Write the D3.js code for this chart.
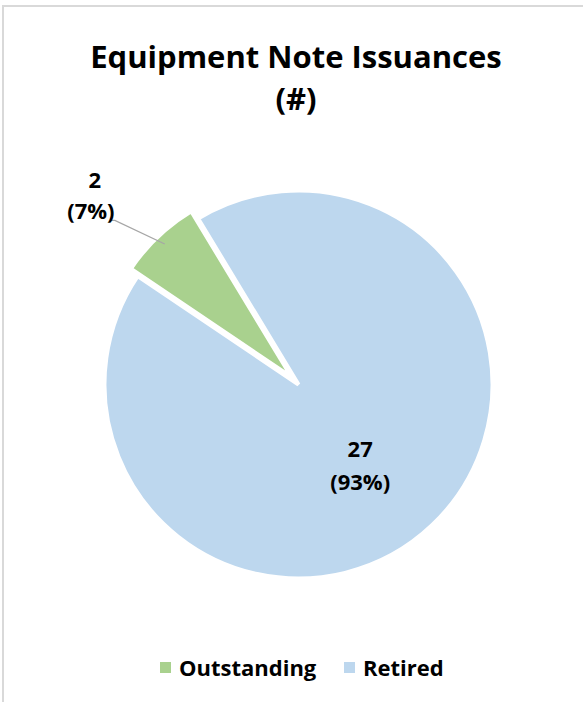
<!DOCTYPE html>
<html>
<head>
<meta charset="utf-8">
<script src="https://cdn.jsdelivr.net/npm/d3@7"></script>
<style>
  body { margin: 0; background: #fff; }
  text { font-family: "Open Sans", Lato, sans-serif; font-weight: bold; fill: #000; }
</style>
</head>
<body>
<div id="wrapper"></div>
<script>
const categories = ["Outstanding", "Retired"];
const values = [2, 27];
const colors = ["#a9d18e", "#bdd7ee"];

function draw() {
  const dimensions = { width: 583, height: 702 };
  const cx = 298.5, cy = 384.5, radius = 194;

  const wrapper = d3.select("#wrapper")
    .append("svg")
      .attr("width", dimensions.width)
      .attr("height", dimensions.height);

  // chart frame (only top / left edges show)
  wrapper.append("rect")
    .attr("x", 3).attr("y", 6)
    .attr("width", 700).attr("height", 800)
    .attr("fill", "none")
    .attr("stroke", "#d9d9d9")
    .attr("stroke-width", 2);

  // title
  const title = wrapper.append("text")
    .attr("text-anchor", "middle")
    .style("font-size", "31px");
  title.append("tspan").attr("x", 296).attr("y", 68).text("Equipment Note Issuances");
  title.append("tspan").attr("x", 296).attr("y", 110).text("(#)");

  const total = d3.sum(values);
  const start = -56 * Math.PI / 180;
  const pie = d3.pie().sort(null).startAngle(start).endAngle(start + 2 * Math.PI);
  const arcs = pie(values);
  const arc = d3.arc().innerRadius(0).outerRadius(radius);
  const explode = [10, 0];

  const bounds = wrapper.append("g")
    .attr("transform", "translate(" + cx + ", " + cy + ")");

  const offset = (d, i) => {
    const a = (d.startAngle + d.endAngle) / 2;
    return [Math.sin(a) * explode[i], -Math.cos(a) * explode[i]];
  };

  bounds.selectAll("path.slice")
    .data(arcs)
    .join("path")
      .attr("class", "slice")
      .attr("transform", (d, i) => "translate(" + offset(d, i) + ")")
      .attr("d", arc)
      .attr("fill", (d, i) => colors[i])
      .attr("stroke", "#fff")
      .attr("stroke-width", 4)
      .attr("stroke-linejoin", "miter");

  // labels
  const fmt = d => Math.round(d.value / total * 100) + "%";

  // retired label inside
  const inner = d3.arc().innerRadius(104).outerRadius(104);
  const r = arcs[1];
  const [rx, ry] = inner.centroid(r);
  const rl = bounds.append("text").attr("text-anchor", "middle").style("font-size", "22px");
  rl.append("tspan").attr("x", rx - 10).attr("y", ry - 3).text(r.value);
  rl.append("tspan").attr("x", rx - 10).attr("y", ry + 30).text("(" + fmt(r) + ")");

  // outstanding label outside with leader line
  const o = arcs[0];
  const [ox, oy] = offset(o, 0);
  const lineStart = d3.arc().innerRadius(radius - 10).outerRadius(radius - 10).centroid(o);
  const labelPos = d3.arc().innerRadius(radius + 71).outerRadius(radius + 71).centroid(o);
  const lx = labelPos[0] + ox, ly = labelPos[1] + oy;
  bounds.append("polyline")
    .attr("points", [[lineStart[0] + ox, lineStart[1] + oy], [lx + 6, ly + 35], [lx + 1, ly + 35]].join(" "))
    .attr("fill", "none")
    .attr("stroke", "#a6a6a6")
    .attr("stroke-width", 1.3);
  const ol = bounds.append("text").attr("text-anchor", "middle").style("font-size", "22px");
  ol.append("tspan").attr("x", lx - 14).attr("y", ly + 3).text(o.value);
  ol.append("tspan").attr("x", lx - 18).attr("y", ly + 34).text("(" + fmt(o) + ")");

  // legend
  const legendX = [160, 344];
  const legend = wrapper.append("g").selectAll("g")
    .data(categories)
    .join("g")
      .attr("transform", (d, i) => "translate(" + legendX[i] + ", 0)");
  legend.append("rect")
    .attr("x", 0).attr("y", 662)
    .attr("width", 11).attr("height", 11)
    .attr("fill", (d, i) => colors[i]);
  legend.append("text")
    .attr("x", 19).attr("y", 676)
    .style("font-size", "22px")
    .text(d => d);
}
draw();
</script>
</body>
</html>
